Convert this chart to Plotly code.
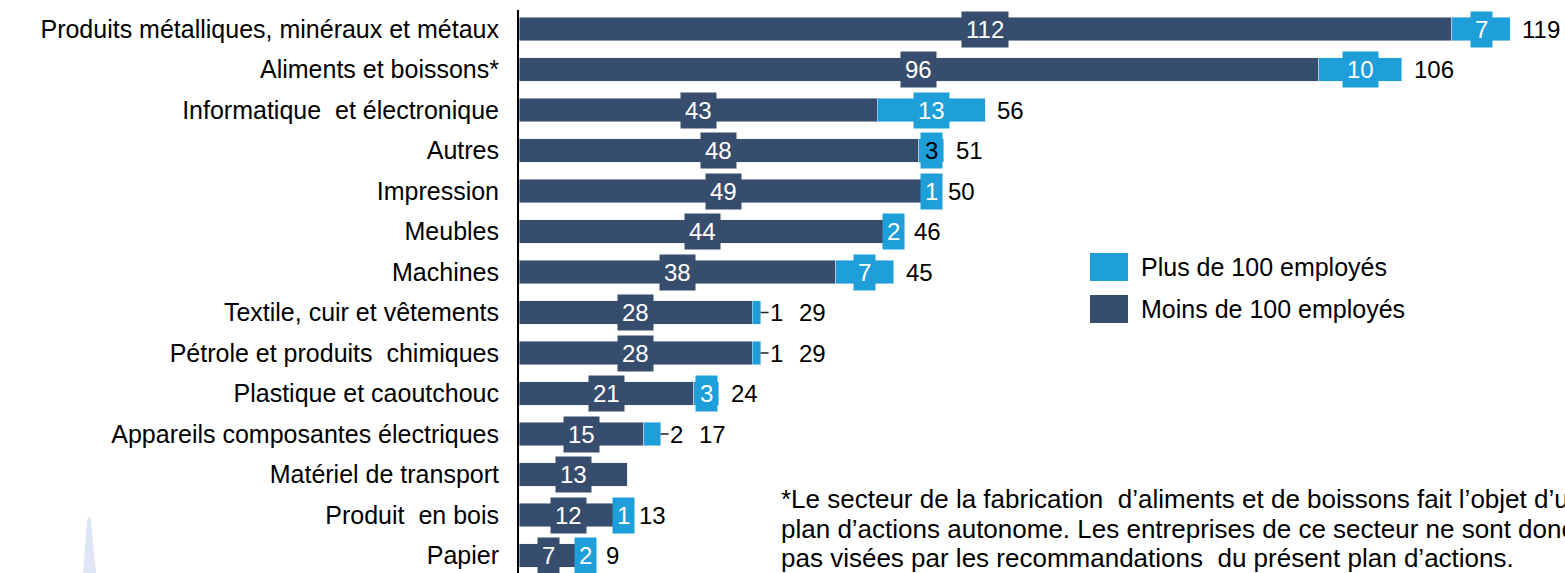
import plotly.graph_objects as go

# Entreprises manufacturières par secteur, selon la taille
categories = [
    "Produits métalliques, minéraux et métaux",
    "Aliments et boissons*",
    "Informatique  et électronique",
    "Autres",
    "Impression",
    "Meubles",
    "Machines",
    "Textile, cuir et vêtements",
    "Pétrole et produits  chimiques",
    "Plastique et caoutchouc",
    "Appareils composantes électriques",
    "Matériel de transport",
    "Produit  en bois",
    "Papier",
]
moins_100 = [112, 96, 43, 48, 49, 44, 38, 28, 28, 21, 15, 13, 12, 7]
plus_100 = [7, 10, 13, 3, 1, 2, 7, 1, 1, 3, 2, 0, 1, 2]
series_names = ["Plus de 100 employés", "Moins de 100 employés"]
footnote_lines = [
    "*Le secteur de la fabrication  d’aliments et de boissons fait l’objet d’un",
    "plan d’actions autonome. Les entreprises de ce secteur ne sont donc",
    "pas visées par les recommandations  du présent plan d’actions.",
]

# narrow segments whose value is written beside the bar with a leader line
outside_labels = {"Textile, cuir et vêtements", "Pétrole et produits  chimiques",
                  "Appareils composantes électriques"}
dark_text_labels = {"Autres"}

DARK = "#374D6D"
LIGHT = "#1E9FD9"
FONT = "Liberation Sans, Arial, sans-serif"
NARROW = "Liberation Sans Narrow, Arial Narrow, sans-serif"

W, H = 1565, 573
ML, MT = 519, 10
PW, PH = W - ML, H - MT
PX_PER_UNIT = 8.33
ROW_TOP, ROW_STEP = 29, 40.5


def px_x(px):
    return (px - ML) / PW


def px_y(py):
    return (H - py) / PH


ypos = list(range(len(categories)))
totals = [m + p for m, p in zip(moins_100, plus_100)]

fig = go.Figure()
fig.add_trace(go.Bar(y=ypos, x=moins_100, orientation="h", marker_color=DARK,
                     width=0.57, name=series_names[1], hoverinfo="x"))
fig.add_trace(go.Bar(y=ypos, x=plus_100, orientation="h", marker_color=LIGHT,
                     width=0.57, name=series_names[0], hoverinfo="x"))

annotations = []
label_font = dict(family=FONT, size=24, color="white")
for i, cat in enumerate(categories):
    m, p, t = moins_100[i], plus_100[i], totals[i]
    annotations.append(dict(x=m / 2, y=i, text=str(m), showarrow=False,
                            bgcolor=DARK, borderpad=4, font=label_font))
    if p > 0:
        if cat in outside_labels:
            annotations.append(dict(x=t, y=i, text=str(p), showarrow=True,
                                    ax=16, ay=0, arrowhead=0, arrowwidth=1.5,
                                    arrowcolor="#222", standoff=0,
                                    font=dict(family=FONT, size=24, color="black")))
            shift = 36
        else:
            col = "black" if cat in dark_text_labels else "white"
            annotations.append(dict(x=m + p / 2, y=i, text=str(p), showarrow=False,
                                    bgcolor=LIGHT, borderpad=4,
                                    font=dict(family=FONT, size=24, color=col)))
            shift = 10
        annotations.append(dict(x=t, y=i, text=str(t), showarrow=False,
                                xanchor="left", xshift=shift,
                                font=dict(family=FONT, size=24, color="black")))

# legend
legend_items = [(series_names[0], LIGHT, 253), (series_names[1], DARK, 295)]
shapes = []
for name, col, top in legend_items:
    shapes.append(dict(type="rect", xref="paper", yref="paper",
                       x0=px_x(1090), x1=px_x(1128), y0=px_y(top + 28), y1=px_y(top),
                       fillcolor=col, line_width=0))
    annotations.append(dict(xref="paper", yref="paper", x=px_x(1139), y=px_y(top + 14),
                            xanchor="left", yanchor="middle", text=name, showarrow=False,
                            font=dict(family=FONT, size=25, color="black")))

# footnote, one annotation per line for tight leading
for k, line in enumerate(footnote_lines):
    annotations.append(dict(
        xref="paper", yref="paper", x=px_x(779), y=px_y(499 + 29.5 * k),
        xanchor="left", yanchor="middle", align="left", showarrow=False,
        text=line, font=dict(family=NARROW, size=26, color="black"),
    ))

# faint decorative spike, bottom left
shapes.append(dict(type="path", xref="paper", yref="paper", layer="below",
                   path=(f"M {px_x(83)},{px_y(573)} L {px_x(87)},{px_y(522)} "
                         f"Q {px_x(89)},{px_y(511)} {px_x(91)},{px_y(522)} "
                         f"L {px_x(96)},{px_y(573)} Z"),
                   fillcolor="#C9D4EE", opacity=0.6, line_width=0))

y_lo = (MT - ROW_TOP) / ROW_STEP
y_hi = (H - ROW_TOP) / ROW_STEP

fig.update_layout(
    width=W, height=H, barmode="stack", showlegend=False,
    plot_bgcolor="white", paper_bgcolor="white",
    margin=dict(l=ML, r=0, t=MT, b=0, pad=0),
    xaxis=dict(range=[0, PW / PX_PER_UNIT], visible=False, fixedrange=True),
    yaxis=dict(range=[y_hi, y_lo], tickvals=ypos, ticktext=categories,
               showline=True, linecolor="black", linewidth=2, ticks="",
               showgrid=False, zeroline=False, ticklabelstandoff=13,
               tickfont=dict(family=FONT, size=25, color="black"), fixedrange=True),
    annotations=annotations, shapes=shapes,
)

fig.write_html("out.html")
